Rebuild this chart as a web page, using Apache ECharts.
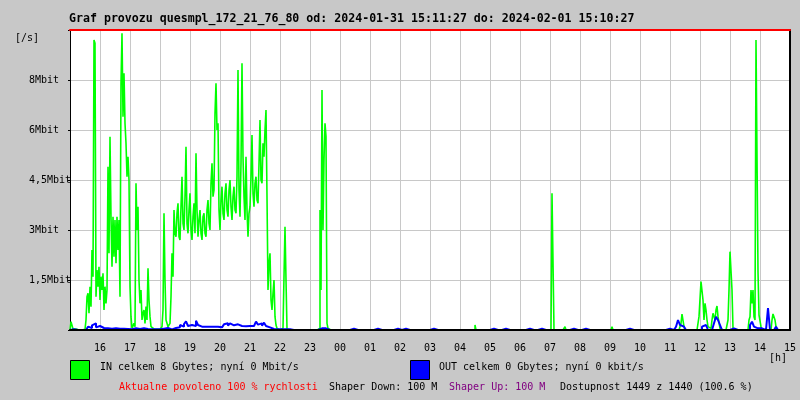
<!DOCTYPE html>
<html><head><meta charset="utf-8">
<script src="https://cdn.jsdelivr.net/npm/echarts@6/dist/echarts.min.js"></script>
<style>html,body{margin:0;padding:0;background:#c8c8c8}#c{width:800px;height:400px}</style>
</head><body><div id="c"></div>
<script>
// hour labels for the x axis (axis runs 15:00 -> 15:00 next day, value = hours)
const xTickLabels = ['', '16','17','18','19','20','21','22','23','00','01','02','03','04','05','06','07','08','09','10','11','12','13','14','15'];
// y tick labels at 0, 1.5, 3, 4.5, 6, 7.5, 9 Mbit/s
const yTickLabels = ['', '1,5Mbit', '3Mbit', '4,5Mbit', '6Mbit', '8Mbit', ''];
const inStepMinutes = 2;   // IN: one value every 2 minutes from 15:00
const outStepMinutes = 4;  // OUT: one value every 4 minutes from 15:00

// IN traffic, Mbit/s (30 samples per hour)
const inRate = [
  0,0.25,0.2,0.03,0.05,0.03,0,0.02,0,0,0,0,0,0,0.02,0.05,0.3,1.0,1.1,0.5,1.3,0.7,2.4,1.6,8.7,8.6,1.0,1.8,1.3,1.9,          // 15
  0.9,1.6,1.2,1.7,0.6,1.3,0.8,1.2,4.9,2.3,5.8,3.4,1.9,3.4,2.2,3.3,2.0,3.4,2.4,3.3,1.0,7.4,8.9,6.4,7.7,6.2,5.6,4.6,5.2,4.5,  // 16
  1.3,0.4,0.05,0.1,0.2,0.1,4.4,3.0,3.7,1.5,0.8,1.2,0.3,0.5,0.6,0.2,0.7,0.3,1.85,0.9,0.4,0.1,0.05,0.03,0.03,0.02,0.02,0.02,0.02,0.02, // 17
  0.02,0.02,0.1,0.6,3.5,1.5,0.3,0.2,0.1,0.05,0.2,1.0,2.3,1.6,3.6,2.9,2.8,3.5,3.8,2.8,2.7,3.7,4.6,3.2,3.0,4.0,5.5,3.2,2.9,3.6, // 18
  4.1,3.0,2.7,3.4,3.8,2.9,5.3,3.6,2.8,3.3,3.6,2.9,2.7,3.4,3.5,2.9,2.8,3.6,3.9,3.2,3.0,4.4,5.0,4.0,4.2,6.5,7.4,6.0,6.2,3.6,  // 19
  3.0,3.9,4.3,3.5,3.3,4.1,4.4,3.6,3.4,4.2,4.5,3.7,3.3,4.0,4.3,3.6,3.5,4.6,7.8,4.2,3.4,5.0,8.0,5.2,4.0,3.3,5.2,3.6,2.8,3.5,  // 20
  3.7,4.6,5.85,4.1,3.7,4.4,4.6,3.9,3.8,5.0,6.3,4.5,4.4,5.6,5.2,6.0,6.6,4.0,1.2,2.0,2.3,0.9,0.6,1.1,1.5,0.4,0.15,0.05,0.02,0, // 21
  0,0,0.05,0.02,1.6,3.1,1.5,0.03,0,0,0,0,0,0,0,0,0,0,0,0,0,0,0,0,0,0,0,0,0,0,                                               // 22
  0,0,0,0,0,0,0,0,0,0.05,3.6,1.2,7.2,3.0,5.1,6.2,5.8,0.2,0.05,0,0,0,0,0,0,0,0,0,0,0,                                         // 23
  0,0,0,0,0,0,0,0,0,0,0,0,0,0,0,0,0,0,0,0,0,0,0,0,0,0,0,0,0,0,                                                               // 00
  0,0,0,0,0,0,0,0,0,0,0,0,0,0,0,0,0,0,0,0,0,0,0,0,0,0,0,0,0,0,                                                               // 01
  0,0,0,0,0,0,0,0,0,0,0,0,0,0,0,0,0,0,0,0,0,0,0,0,0,0,0,0,0,0,                                                               // 02
  0,0,0,0,0,0,0,0,0,0,0,0,0,0,0,0,0,0,0,0,0,0,0,0,0,0,0,0,0,0,                                                               // 03
  0,0,0,0.05,0,0,0,0,0,0,0,0,0,0,0,0.15,0,0,0,0,0,0,0,0,0,0,0,0,0,0,                                                         // 04
  0,0,0,0,0,0,0,0,0,0,0,0,0,0,0,0,0,0,0,0,0,0,0,0,0,0,0,0,0,0,                                                               // 05
  0,0,0,0,0,0,0,0,0,0,0,0.05,0,0,0,0,0,0,0,0,0,0,0,0,0,0,0,0,0,0,                                                            // 06
  0,0,4.1,4.1,0,0,0,0,0,0,0,0,0,0,0,0.1,0,0,0,0,0,0,0,0,0,0,0,0,0,0,                                                         // 07
  0,0,0,0,0,0,0,0,0,0,0,0,0,0,0,0,0,0,0,0,0,0,0,0,0,0,0,0,0,0,                                                               // 08
  0,0,0.1,0,0,0,0,0,0,0,0,0,0,0,0,0,0,0,0,0,0,0,0,0,0,0,0,0,0,0,                                                             // 09
  0,0,0,0,0,0,0,0,0,0,0,0,0,0,0,0,0.05,0,0,0,0,0,0,0,0,0,0,0,0,0,                                                            // 10
  0,0,0,0,0,0,0,0,0,0,0,0.2,0.48,0.48,0.1,0,0,0,0,0,0,0,0,0,0,0,0,0,0,0.4,                                                   // 11
  0.4,1.45,1.45,0.9,0.3,0.8,0.6,0.3,0.1,0.05,0.05,0.1,0.3,0.5,0.5,0.3,0.6,0.72,0.4,0.35,0.05,0,0,0,0,0,0,0,0.3,1.2,         // 12
  2.35,2.35,1.2,0.05,0,0,0,0,0,0,0,0,0,0,0,0,0,0,0,0.3,0.4,1.2,0.8,1.2,0.4,0.3,8.7,8.7,1.75,0.45,                            // 13
  0.45,0.1,0,0,0,0,0,0,0,0,0,0,0.3,0.48,0.48,0.3,0.1,0,0,0,0,0,0,0,0,0,0,0,0,0,                                              // 14
  0
];

// OUT traffic, Mbit/s (15 samples per hour)
const outRate = [
  0,0.02,0,0,0,0,0,0,0.05,0.1,0.06,0.14,0.2,0.08,0.12,                     // 15
  0.1,0.06,0.12,0.05,0.06,0.04,0.04,0.05,0.03,0.04,0.1,0.04,0.04,0.03,0.03,// 16
  0.02,0.03,0.05,0.04,0.03,0.04,0.05,0.02,0.03,0.02,0.02,0.02,0.02,0.02,0.02,// 17
  0.03,0.04,0.02,0.06,0.03,0.02,0.04,0.06,0.12,0.08,0.15,0.1,0.18,0.26,0.12,// 18
  0.15,0.2,0.12,0.28,0.15,0.1,0.06,0.1,0.07,0.1,0.06,0.1,0.08,0.1,0.07,    // 19
  0.08,0.12,0.17,0.2,0.13,0.2,0.14,0.12,0.17,0.2,0.12,0.15,0.11,0.16,0.12, // 20
  0.14,0.12,0.18,0.25,0.16,0.2,0.13,0.22,0.12,0.08,0.05,0.03,0.02,0.02,0.02,// 21
  0.02,0.02,0.02,0.05,0.02,0,0,0,0,0,0,0,0,0,0,                            // 22
  0,0,0,0,0,0.05,0.1,0.05,0,0,0,0,0,0,0,                                   // 23
  0,0.04,0,0,0,0,0.04,0,0,0,0,0.04,0,0,0,                                  // 00
  0,0,0,0.04,0,0,0,0,0.04,0,0,0,0,0.04,0,                                  // 01
  0,0,0.04,0,0,0,0,0,0,0.04,0,0,0,0,0,                                     // 02
  0,0.04,0,0,0,0,0.04,0,0,0,0,0,0.04,0,0,                                  // 03
  0,0,0,0.04,0,0,0,0,0,0.04,0,0,0,0,0,                                     // 04
  0,0.04,0,0,0,0,0,0.04,0,0,0,0,0,0,0.04,                                  // 05
  0,0,0,0,0.04,0,0,0,0,0,0.04,0,0,0,0,                                     // 06
  0.04,0,0,0,0,0,0,0,0,0,0,0.04,0,0,0,                                     // 07
  0,0,0.04,0,0,0,0,0.04,0,0,0,0,0,0,0,                                     // 08
  0,0,0,0,0.04,0,0,0,0,0.04,0,0,0,0,0,                                     // 09
  0,0.04,0,0,0,0,0,0,0,0,0,0,0,0,0.04,                                     // 10
  0,0,0,0.1,0.3,0.15,0.1,0.1,0,0,0,0,0,0,0,                                // 11
  0,0.1,0.15,0.1,0,0,0,0.2,0.4,0.3,0.15,0,0,0,0,                           // 12
  0,0.05,0,0,0,0,0,0,0,0,0.15,0.25,0.1,0.05,0.1,                           // 13
  0.05,0,0,0,0.66,0,0,0.05,0.1,0,0,0,0,0,0,                                // 14
  0
];

const toPairs = (arr, stepMin) => arr.map((v, i) => [15 + i * stepMin / 60, v]);

const mono = '"DejaVu Sans Mono", "Liberation Mono", monospace';
const chart = echarts.init(document.getElementById('c'), null, {renderer: 'canvas'});
const hideAxis = {axisLabel:{show:false}, axisTick:{show:false}, splitLine:{show:false}};
chart.setOption({
  backgroundColor: '#c8c8c8',
  animation: false,
  title: {
    text: 'Graf provozu quesmpl_172_21_76_80 od: 2024-01-31 15:11:27 do: 2024-02-01 15:10:27',
    left: 64, top: 8,
    textStyle: {fontFamily: mono, fontSize: 11.6, fontWeight: 'bold', color: '#000'}
  },
  grid: {left: 70, right: 10, top: 30, bottom: 70, show: true, backgroundColor: '#ffffff', borderWidth: 0},
  xAxis: [
    {
      type: 'value', min: 15, max: 39, interval: 1, position: 'bottom',
      axisLine: {show: false},
      axisTick: {show: false},
      axisLabel: {
        margin: 13, fontFamily: mono, fontSize: 10, color: '#000',
        formatter: v => xTickLabels[Math.round(v - 15)]
      },
      splitLine: {show: true, lineStyle: {color: '#c8c8c8', width: 1}}
    },
    Object.assign({type: 'value', min: 15, max: 39, position: 'bottom', z: 10,
      axisLine: {show: true, onZero: false, lineStyle: {color: '#000', width: 2}}}, hideAxis),
    Object.assign({type: 'value', min: 15, max: 39, position: 'top', z: 10,
      axisLine: {show: true, onZero: false, lineStyle: {color: '#ff0000', width: 2}}}, hideAxis)
  ],
  yAxis: [
    {
      type: 'value', min: 0, max: 9, interval: 1.5,
      axisLine: {show: true, onZero: false, lineStyle: {color: '#000', width: 1}},
      axisTick: {show: true, length: 2, lineStyle: {color: '#000'}},
      axisLabel: {
        margin: 41, align: 'left', verticalAlign: 'middle', fontFamily: mono, fontSize: 10, color: '#000',
        padding: [7, 0, 0, 0],
        formatter: v => yTickLabels[Math.round(v / 1.5)]
      },
      splitLine: {show: true, lineStyle: {color: '#c8c8c8', width: 1}}
    },
    Object.assign({type: 'value', min: 0, max: 9, position: 'right', z: 10,
      axisLine: {show: true, onZero: false, lineStyle: {color: '#000', width: 2}}}, hideAxis)
  ],
  series: [
    {
      name: 'IN', type: 'line', step: 'end', showSymbol: false, symbol: 'none',
      data: toPairs(inRate, inStepMinutes), lineStyle: {color: '#00ff00', width: 1.6}, z: 2
    },
    {
      name: 'OUT', type: 'line', step: 'end', showSymbol: false, symbol: 'none',
      data: toPairs(outRate, outStepMinutes), lineStyle: {color: '#0000ff', width: 2}, z: 3
    }
  ],
  graphic: [
    {type: 'text', left: 15, top: 33, style: {text: '[/s]', font: '10px ' + mono, fill: '#000'}},
    {type: 'text', left: 769, top: 353, style: {text: '[h]', font: '10px ' + mono, fill: '#000'}},
    {type: 'rect', shape: {x: 70.5, y: 360.5, width: 19, height: 19}, style: {fill: '#00ff00', stroke: '#000', lineWidth: 1}},
    {type: 'text', left: 100, top: 362, style: {text: 'IN celkem 8 Gbytes; nyní 0 Mbit/s', font: '10px ' + mono, fill: '#000'}},
    {type: 'rect', shape: {x: 410.5, y: 360.5, width: 19, height: 19}, style: {fill: '#0000ff', stroke: '#000', lineWidth: 1}},
    {type: 'text', left: 439, top: 362, style: {text: 'OUT celkem 0 Gbytes; nyní 0 kbit/s', font: '10px ' + mono, fill: '#000'}},
    {type: 'text', left: 119, top: 382, style: {text: 'Aktualne povoleno 100 % rychlosti', font: '10px ' + mono, fill: '#ff0000'}},
    {type: 'text', left: 329, top: 382, style: {text: 'Shaper Down: 100 M', font: '10px ' + mono, fill: '#000'}},
    {type: 'text', left: 449, top: 382, style: {text: 'Shaper Up: 100 M', font: '10px ' + mono, fill: '#800080'}},
    {type: 'text', left: 560, top: 382, style: {text: 'Dostupnost 1449 z 1440 (100.6 %)', font: '10px ' + mono, fill: '#000'}}
  ]
});
</script>
</body></html>
